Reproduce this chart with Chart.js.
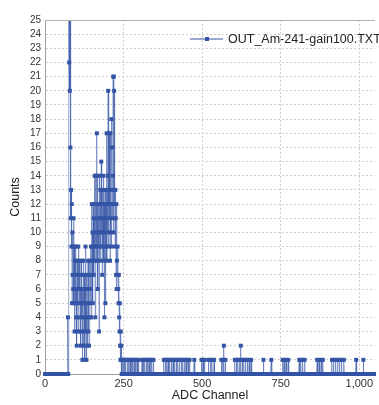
<!DOCTYPE html>
<html>
<head>
<meta charset="utf-8">
<script src="https://cdn.jsdelivr.net/npm/chart.js@4.4.0/dist/chart.umd.min.js"></script>
<style>
    html, body { margin: 0; padding: 0; background: #fff; overflow: hidden; }
    #wrap { position: relative; width: 379px; height: 405px; }
    #legend {
        position: absolute; left: 190px; top: 32px; white-space: nowrap;
        font: 12.5px "Liberation Sans", Arial, sans-serif; color: #222;
        display: flex; align-items: center;
    }
    #legend .swatch { position: relative; width: 33px; height: 2px; background: rgba(52, 84, 166, 0.5); margin-right: 5px; }
    #legend .swatch i { position: absolute; left: 15px; top: -1px; width: 4px; height: 4px; background: #3454a6; }
</style>
</head>
<body>
<div id="wrap">
    <canvas id="spectrumChart" width="379" height="405"></canvas>
    <div id="legend"><span class="swatch"><i></i></span><span id="legendText"></span></div>
</div>
<script>
// Spectrum readings (ADC channel -> counts)
const seriesName = 'OUT_Am-241-gain100.TXT';
const channelCount = 1048;

// dense part, channels 70..244
const peakStart = 70;
const peakCounts = [
    0, 0, 0, 4, 0, 38, 29, 22, 27, 20,
    31, 16, 11, 13, 9, 12, 5, 10, 7, 9,
    6, 11, 5, 9, 3, 7, 8, 5, 9, 4,
    6, 2, 8, 5, 7, 3, 9, 4, 6, 8,
    5, 7, 3, 6, 2, 8, 4, 7, 5, 1,
    6, 3, 8, 2, 5, 7, 4, 1, 6, 9,
    3, 5, 1, 7, 4, 2, 6, 8, 3, 5,
    2, 7, 4, 8, 5, 6, 9, 4, 7, 12,
    8, 10, 5, 12, 9, 7, 11, 8, 14, 10,
    4, 14, 9, 12, 8, 17, 10, 14, 6, 11,
    9, 12, 3, 10, 14, 8, 13, 11, 9, 15,
    10, 12, 7, 13, 9, 11, 14, 8, 12, 4,
    10, 13, 5, 11, 9, 12, 17, 8, 13, 10,
    14, 20, 9, 12, 17, 11, 13, 8, 17, 10,
    12, 18, 9, 16, 13, 11, 14, 21, 10, 21,
    20, 12, 13, 9, 13, 11, 7, 12, 6, 8,
    7, 9, 7, 6, 5, 7, 4, 3, 5, 2,
    1, 3, 1, 2, 0
];

// sparse tail: channels with a single count, and with two counts
const tailSingles = [
    246, 250, 253, 257, 262, 266, 271, 275, 279, 284, 288, 293, 298,
    309, 314, 318, 323, 327, 331, 336, 340, 345,
    378, 383, 388, 392, 397, 402, 408, 413, 418, 423, 428, 434, 439, 444, 449, 455, 460,
    475, 498, 503, 508, 520, 526, 531, 538,
    561, 566, 574,
    604, 609, 614, 619, 628, 633, 638, 644, 650, 656,
    695, 720, 756, 761, 767, 774, 809, 814, 820, 826,
    866, 872, 879, 884, 913, 918, 925, 931, 937, 944, 951,
    990, 1013
];
const tailDoubles = [569, 623];

const xTicks = [0, 250, 500, 750, 1000];
const yTicks = [0, 1, 2, 3, 4, 5, 6, 7, 8, 9, 10, 11, 12, 13, 14, 15, 16, 17, 18, 19, 20, 21, 22, 23, 24, 25];

const FONT = '"Liberation Sans", Arial, sans-serif';

function buildSeries() {
    const counts = new Array(channelCount).fill(0);
    peakCounts.forEach((c, i) => { counts[peakStart + i] = c; });
    tailSingles.forEach(ch => { counts[ch] = 1; });
    tailDoubles.forEach(ch => { counts[ch] = 2; });
    return counts.map((c, ch) => ({ x: ch, y: c }));
}

// solid frame line along the top of the plot
const topFrame = {
    id: 'topFrame',
    afterDraw(chart) {
        const a = chart.chartArea;
        const ctx = chart.ctx;
        ctx.save();
        ctx.strokeStyle = '#b0b0b0';
        ctx.lineWidth = 1;
        ctx.beginPath();
        ctx.moveTo(a.left, a.top + 0.5);
        ctx.lineTo(a.right, a.top + 0.5);
        ctx.stroke();
        ctx.restore();
    }
};

document.getElementById('legendText').textContent = seriesName;

new Chart(document.getElementById('spectrumChart'), {
    type: 'line',
    data: {
        datasets: [{
            label: seriesName,
            data: buildSeries(),
            borderColor: 'rgba(52, 84, 166, 0.5)',
            borderWidth: 1,
            tension: 0,
            pointStyle: 'rect',
            pointRadius: 2.8,
            pointBorderWidth: 0,
            pointBackgroundColor: '#3454a6',
            clip: { left: 3, top: 0, right: 3, bottom: 3 }
        }]
    },
    options: {
        responsive: false,
        animation: false,
        locale: 'en-US',
        layout: { padding: { top: 20, right: 0, left: 0, bottom: 0 } },
        plugins: {
            legend: { display: false },
            tooltip: { enabled: false }
        },
        scales: {
            x: {
                type: 'linear',
                min: 0,
                max: 1050,
                afterBuildTicks: s => { s.ticks = xTicks.map(v => ({ value: v })); },
                afterFit: s => { s.height = 31; },
                ticks: {
                    autoSkip: false,
                    maxRotation: 0,
                    padding: 3,
                    color: '#333',
                    font: { family: FONT, size: 11 }
                },
                grid: {
                    drawTicks: false,
                    color: '#cfcfcf'
                },
                border: { color: '#a0a0a0', dash: [2, 2] },
                title: {
                    display: true,
                    text: 'ADC Channel',
                    color: '#222',
                    font: { family: FONT, size: 12.5 },
                    padding: { top: 0, bottom: 1.5 }
                }
            },
            y: {
                min: 0,
                max: 25,
                afterBuildTicks: s => { s.ticks = yTicks.map(v => ({ value: v })); },
                afterFit: s => { s.width = 45; },
                ticks: {
                    autoSkip: false,
                    padding: 4,
                    color: '#333',
                    font: { family: FONT, size: 10 }
                },
                grid: {
                    drawTicks: false,
                    color: '#cfcfcf'
                },
                border: { color: '#a0a0a0', dash: [2, 2] },
                title: {
                    display: true,
                    text: 'Counts',
                    color: '#222',
                    font: { family: FONT, size: 12.5 },
                    padding: { top: 8.5, bottom: 0 }
                }
            }
        }
    },
    plugins: [topFrame]
});
</script>
</body>
</html>
